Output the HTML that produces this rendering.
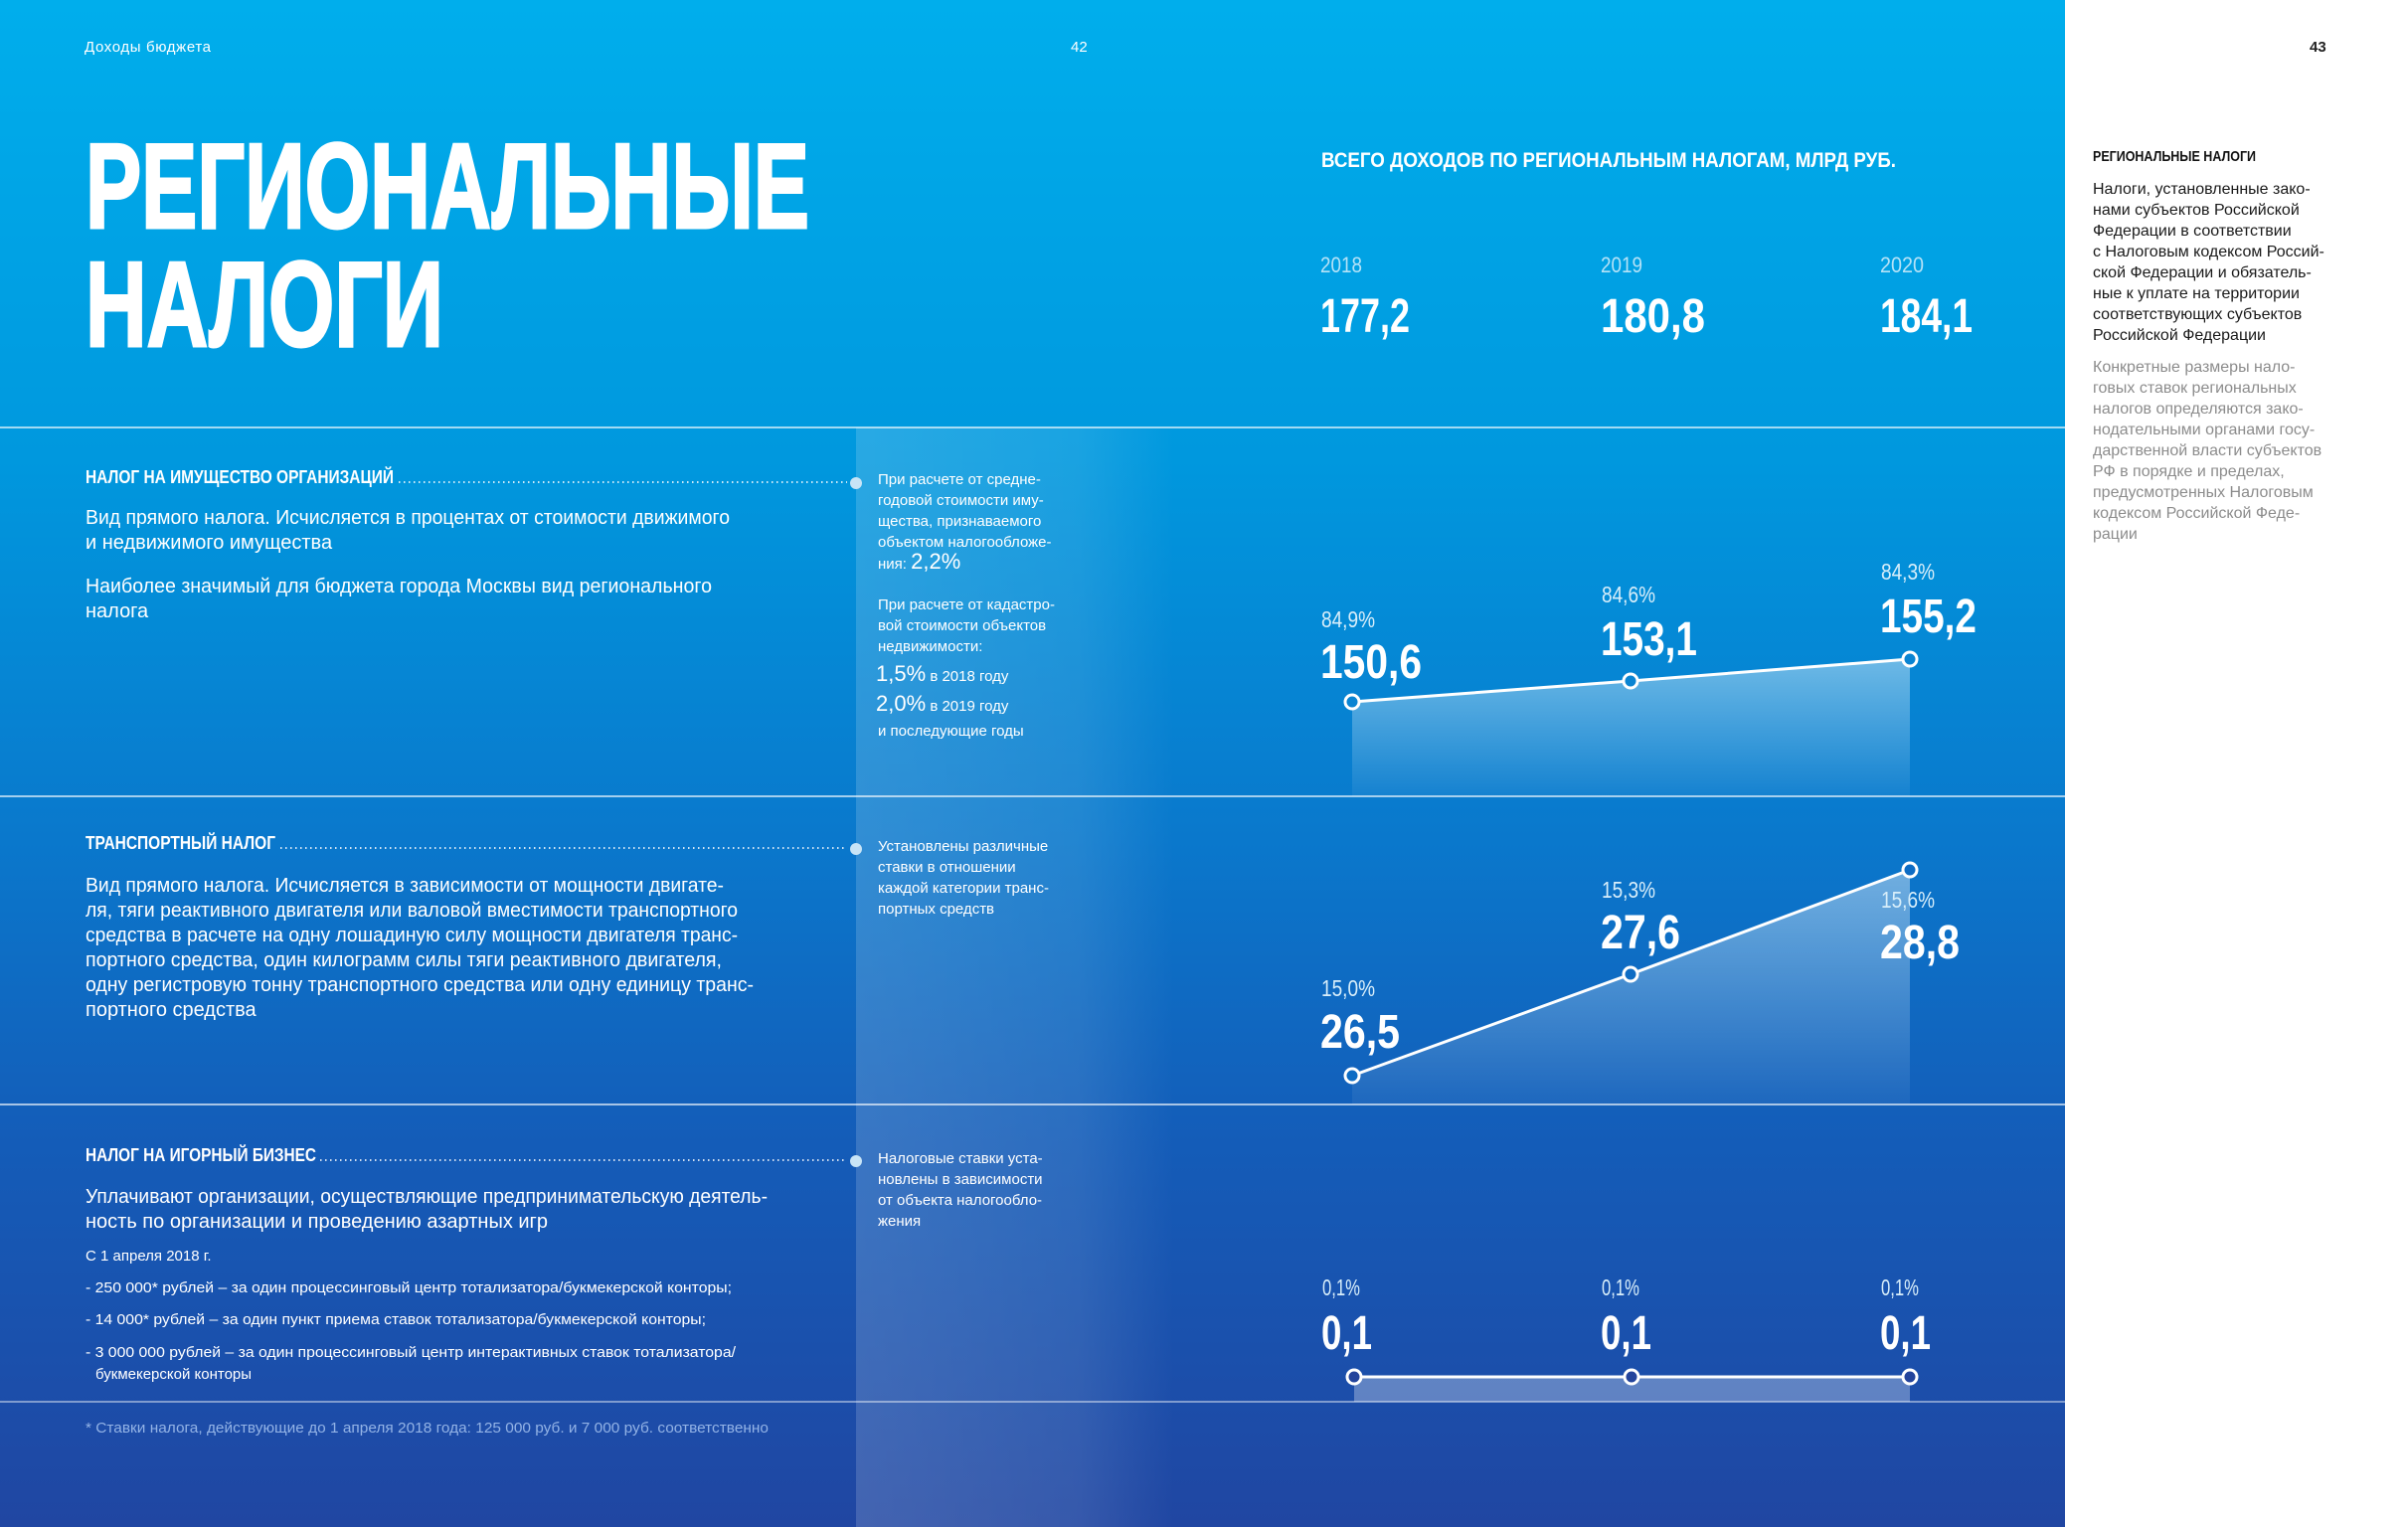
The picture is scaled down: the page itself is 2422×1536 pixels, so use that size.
<!DOCTYPE html>
<html><head><meta charset="utf-8"><style>
html,body{margin:0;padding:0;background:#fff}
svg{display:block}
text{font-family:"Liberation Sans Narrow","Liberation Sans","DejaVu Sans Condensed",sans-serif}
.w{fill:#fff}
.b{font-weight:bold}
</style></head><body>
<svg width="2422" height="1536" viewBox="0 0 2422 1536" xmlns="http://www.w3.org/2000/svg">
<defs>
<linearGradient id="bg" x1="0" y1="0" x2="0" y2="1">
<stop offset="0" stop-color="#00aeec"/>
<stop offset="0.3" stop-color="#0098de"/>
<stop offset="0.55" stop-color="#0a78cc"/>
<stop offset="0.75" stop-color="#145cb8"/>
<stop offset="1" stop-color="#2046a2"/>
</linearGradient>
<linearGradient id="band" x1="0" y1="0" x2="1" y2="0">
<stop offset="0" stop-color="#fff" stop-opacity="0.16"/>
<stop offset="0.7" stop-color="#fff" stop-opacity="0.1"/>
<stop offset="1" stop-color="#fff" stop-opacity="0"/>
</linearGradient>
<linearGradient id="ar" x1="0" y1="0" x2="0" y2="1">
<stop offset="0" stop-color="#fff" stop-opacity="0.42"/>
<stop offset="1" stop-color="#fff" stop-opacity="0.05"/>
</linearGradient>
</defs>
<rect x="0" y="0" width="2077" height="1536" fill="url(#bg)"/>
<rect x="861" y="430" width="320" height="1106" fill="url(#band)"/>

<!-- header -->
<text x="85" y="52" class="w" font-size="15" textLength="127">Доходы бюджета</text>
<text x="1077" y="52" class="w" font-size="15">42</text>
<text x="2323" y="52" font-size="15" fill="#222" class="b">43</text>

<!-- title -->
<text x="86" y="229" class="w b" font-size="122" stroke="#fff" stroke-width="3" textLength="728" lengthAdjust="spacingAndGlyphs">РЕГИОНАЛЬНЫЕ</text>
<text x="86" y="348" class="w b" font-size="122" stroke="#fff" stroke-width="3" textLength="360" lengthAdjust="spacingAndGlyphs">НАЛОГИ</text>

<text x="1329" y="168" class="w b" font-size="21" textLength="578" lengthAdjust="spacingAndGlyphs">ВСЕГО ДОХОДОВ ПО РЕГИОНАЛЬНЫМ НАЛОГАМ, МЛРД РУБ.</text>
<g fill="#b4e2f7" font-size="22">
<text x="1328" y="274" textLength="42" lengthAdjust="spacingAndGlyphs">2018</text><text x="1610" y="274" textLength="42" lengthAdjust="spacingAndGlyphs">2019</text><text x="1891" y="274" textLength="44" lengthAdjust="spacingAndGlyphs">2020</text>
</g>
<g class="w b" font-size="48">
<text x="1328" y="334" textLength="90" lengthAdjust="spacingAndGlyphs">177,2</text>
<text x="1610" y="334" textLength="105" lengthAdjust="spacingAndGlyphs">180,8</text>
<text x="1891" y="334" textLength="93" lengthAdjust="spacingAndGlyphs">184,1</text>
</g>

<!-- right panel -->
<text x="2105" y="162" font-size="15" fill="#111" class="b" textLength="164" lengthAdjust="spacingAndGlyphs">РЕГИОНАЛЬНЫЕ НАЛОГИ</text>
<g font-size="16" fill="#1a1a1a">
<text x="2105" y="195">Налоги, установленные зако-</text>
<text x="2105" y="216">нами субъектов Российской</text>
<text x="2105" y="237">Федерации в соответствии</text>
<text x="2105" y="258">с Налоговым кодексом Россий-</text>
<text x="2105" y="279">ской Федерации и обязатель-</text>
<text x="2105" y="300">ные к уплате на территории</text>
<text x="2105" y="321">соответствующих субъектов</text>
<text x="2105" y="342">Российской Федерации</text>
</g>
<g font-size="16" fill="#8c8c8c">
<text x="2105" y="374">Конкретные размеры нало-</text>
<text x="2105" y="395">говых ставок региональных</text>
<text x="2105" y="416">налогов  определяются  зако-</text>
<text x="2105" y="437">нодательными органами госу-</text>
<text x="2105" y="458">дарственной власти субъектов</text>
<text x="2105" y="479">РФ в порядке и пределах,</text>
<text x="2105" y="500">предусмотренных Налоговым</text>
<text x="2105" y="521">кодексом Российской Феде-</text>
<text x="2105" y="542">рации</text>
</g>

<!-- separators -->
<g stroke="#fff" stroke-width="1.5" opacity="0.85">
<line x1="0" y1="430" x2="2077" y2="430"/>
<line x1="0" y1="801" x2="2077" y2="801"/>
<line x1="0" y1="1111" x2="2077" y2="1111"/>
<line x1="0" y1="1410" x2="2077" y2="1410" opacity="0.7"/>
</g>

<!-- Section 1 -->
<text x="86" y="486" class="w b" font-size="18" textLength="310" lengthAdjust="spacingAndGlyphs">НАЛОГ НА ИМУЩЕСТВО ОРГАНИЗАЦИЙ</text>
<line x1="401" y1="485" x2="852" y2="485" stroke="#fff" stroke-width="2" stroke-dasharray="1.5 3.5" opacity="0.8"/>
<circle cx="861" cy="486" r="6" fill="#c8e4f6"/>
<g class="w" font-size="20">
<text x="86" y="527" textLength="648" lengthAdjust="spacingAndGlyphs">Вид прямого налога. Исчисляется в процентах от стоимости движимого</text>
<text x="86" y="552">и недвижимого имущества</text>
<text x="86" y="596" textLength="630" lengthAdjust="spacingAndGlyphs">Наиболее значимый для бюджета города Москвы вид регионального</text>
<text x="86" y="621">налога</text>
</g>
<g class="w" font-size="15">
<text x="883" y="487">При расчете от средне-</text>
<text x="883" y="508">годовой стоимости иму-</text>
<text x="883" y="529">щества, признаваемого</text>
<text x="883" y="550">объектом налогообложе-</text>
<text x="883" y="572">ния: <tspan font-size="22">2,2%</tspan></text>
<text x="883" y="613">При расчете от кадастро-</text>
<text x="883" y="634">вой стоимости объектов</text>
<text x="883" y="655">недвижимости:</text>
<text x="881" y="685"><tspan font-size="22">1,5%</tspan>  в 2018 году</text>
<text x="881" y="715"><tspan font-size="22">2,0%</tspan> в 2019 году</text>
<text x="883" y="740">и последующие годы</text>
</g>
<polygon points="1360,706 1640,685 1921,663 1921,801 1360,801" fill="url(#ar)"/>
<polyline points="1360,706 1640,685 1921,663" fill="none" stroke="#fff" stroke-width="3"/>
<g fill="#0a84d2" stroke="#fff" stroke-width="3">
<circle cx="1360" cy="706" r="7"/><circle cx="1640" cy="685" r="7"/><circle cx="1921" cy="663" r="7"/>
</g>
<g fill="#d8eefa" font-size="23">
<text x="1329" y="631" textLength="54" lengthAdjust="spacingAndGlyphs">84,9%</text><text x="1611" y="606" textLength="54" lengthAdjust="spacingAndGlyphs">84,6%</text><text x="1892" y="583" textLength="54" lengthAdjust="spacingAndGlyphs">84,3%</text>
</g>
<g class="w b" font-size="48">
<text x="1328" y="682" textLength="102" lengthAdjust="spacingAndGlyphs">150,6</text>
<text x="1610" y="659" textLength="97" lengthAdjust="spacingAndGlyphs">153,1</text>
<text x="1891" y="636" textLength="97" lengthAdjust="spacingAndGlyphs">155,2</text>
</g>

<!-- Section 2 -->
<text x="86" y="854" class="w b" font-size="18" textLength="191" lengthAdjust="spacingAndGlyphs">ТРАНСПОРТНЫЙ НАЛОГ</text>
<line x1="282" y1="853" x2="852" y2="853" stroke="#fff" stroke-width="2" stroke-dasharray="1.5 3.5" opacity="0.8"/>
<circle cx="861" cy="854" r="6" fill="#c8e4f6"/>
<g class="w" font-size="20">
<text x="86" y="897" textLength="642" lengthAdjust="spacingAndGlyphs">Вид прямого налога. Исчисляется в зависимости от мощности двигате-</text>
<text x="86" y="922" textLength="656" lengthAdjust="spacingAndGlyphs">ля, тяги реактивного двигателя или валовой вместимости транспортного</text>
<text x="86" y="947" textLength="656" lengthAdjust="spacingAndGlyphs">средства в расчете на одну лошадиную силу мощности двигателя транс-</text>
<text x="86" y="972" textLength="640" lengthAdjust="spacingAndGlyphs">портного средства, один килограмм силы тяги реактивного двигателя,</text>
<text x="86" y="997" textLength="672" lengthAdjust="spacingAndGlyphs">одну регистровую тонну транспортного средства или одну единицу транс-</text>
<text x="86" y="1022">портного средства</text>
</g>
<g class="w" font-size="15">
<text x="883" y="856">Установлены различные</text>
<text x="883" y="877">ставки  в отношении</text>
<text x="883" y="898">каждой категории транс-</text>
<text x="883" y="919">портных средств</text>
</g>
<polygon points="1360,1082 1640,980 1921,875 1921,1111 1360,1111" fill="url(#ar)"/>
<polyline points="1360,1082 1640,980 1921,875" fill="none" stroke="#fff" stroke-width="3"/>
<g fill="#0d6cc4" stroke="#fff" stroke-width="3">
<circle cx="1360" cy="1082" r="7"/><circle cx="1640" cy="980" r="7"/><circle cx="1921" cy="875" r="7"/>
</g>
<g fill="#d8eefa" font-size="23">
<text x="1329" y="1002" textLength="54" lengthAdjust="spacingAndGlyphs">15,0%</text><text x="1611" y="903" textLength="54" lengthAdjust="spacingAndGlyphs">15,3%</text><text x="1892" y="913" textLength="54" lengthAdjust="spacingAndGlyphs">15,6%</text>
</g>
<g class="w b" font-size="48">
<text x="1328" y="1054" textLength="80" lengthAdjust="spacingAndGlyphs">26,5</text>
<text x="1610" y="954" textLength="80" lengthAdjust="spacingAndGlyphs">27,6</text>
<text x="1891" y="964" textLength="80" lengthAdjust="spacingAndGlyphs">28,8</text>
</g>

<!-- Section 3 -->
<text x="86" y="1168" class="w b" font-size="18" textLength="232" lengthAdjust="spacingAndGlyphs">НАЛОГ НА ИГОРНЫЙ БИЗНЕС</text>
<line x1="322" y1="1167" x2="852" y2="1167" stroke="#fff" stroke-width="2" stroke-dasharray="1.5 3.5" opacity="0.8"/>
<circle cx="861" cy="1168" r="6" fill="#c8e4f6"/>
<g class="w" font-size="20">
<text x="86" y="1210" textLength="686" lengthAdjust="spacingAndGlyphs">Уплачивают организации, осуществляющие предпринимательскую деятель-</text>
<text x="86" y="1235">ность по организации и проведению азартных игр</text>
</g>
<g class="w" font-size="15">
<text x="86" y="1268">С 1 апреля 2018 г.</text>
<text x="86" y="1300" textLength="650" lengthAdjust="spacingAndGlyphs">- 250 000* рублей – за один процессинговый центр тотализатора/букмекерской конторы;</text>
<text x="86" y="1332" textLength="624" lengthAdjust="spacingAndGlyphs">- 14 000* рублей – за один пункт приема ставок тотализатора/букмекерской конторы;</text>
<text x="86" y="1365" textLength="654" lengthAdjust="spacingAndGlyphs">- 3 000 000 рублей – за один процессинговый центр интерактивных ставок тотализатора/</text>
<text x="96" y="1387">букмекерской конторы</text>
<text x="883" y="1170">Налоговые ставки уста-</text>
<text x="883" y="1191">новлены в зависимости</text>
<text x="883" y="1212">от объекта налогообло-</text>
<text x="883" y="1233">жения</text>
</g>
<rect x="1362" y="1385" width="559" height="25" fill="#fff" opacity="0.3"/>
<line x1="1362" y1="1385" x2="1921" y2="1385" stroke="#fff" stroke-width="3"/>
<g fill="#23449c" stroke="#fff" stroke-width="3">
<circle cx="1362" cy="1385" r="7"/><circle cx="1641" cy="1385" r="7"/><circle cx="1921" cy="1385" r="7"/>
</g>
<g fill="#d8eefa" font-size="23">
<text x="1330" y="1303" textLength="38" lengthAdjust="spacingAndGlyphs">0,1%</text><text x="1611" y="1303" textLength="38" lengthAdjust="spacingAndGlyphs">0,1%</text><text x="1892" y="1303" textLength="38" lengthAdjust="spacingAndGlyphs">0,1%</text>
</g>
<g class="w b" font-size="48">
<text x="1329" y="1357" textLength="51" lengthAdjust="spacingAndGlyphs">0,1</text><text x="1610" y="1357" textLength="51" lengthAdjust="spacingAndGlyphs">0,1</text><text x="1891" y="1357" textLength="51" lengthAdjust="spacingAndGlyphs">0,1</text>
</g>

<text x="86" y="1441" fill="#93b3e6" font-size="15" textLength="687" lengthAdjust="spacingAndGlyphs">* Ставки налога, действующие до 1 апреля 2018 года: 125 000 руб. и 7 000 руб. соответственно</text>
</svg>
</body></html>
